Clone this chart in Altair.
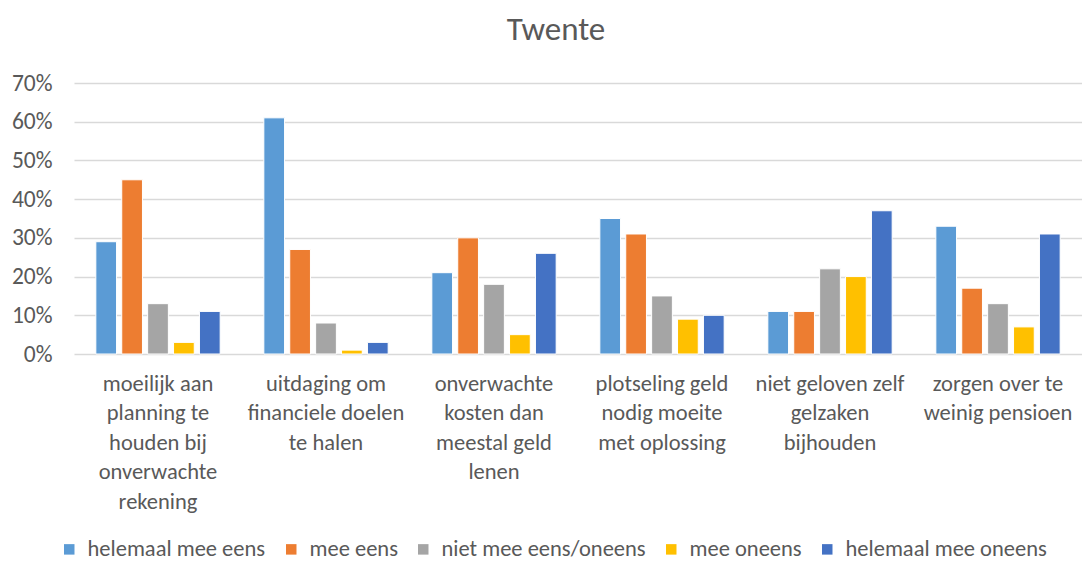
import altair as alt
import pandas as pd

categories = [
    "moeilijk aan|planning te|houden bij|onverwachte|rekening",
    "uitdaging om|financiele doelen|te halen",
    "onverwachte|kosten dan|meestal geld|lenen",
    "plotseling geld|nodig moeite|met oplossing",
    "niet geloven zelf|gelzaken|bijhouden",
    "zorgen over te|weinig pensioen",
]
series = [
    "helemaal mee eens",
    "mee eens",
    "niet mee eens/oneens",
    "mee oneens",
    "helemaal mee oneens",
]
colors = ["#5B9BD5", "#ED7D31", "#A5A5A5", "#FFC000", "#4472C4"]

helemaal_mee_eens = [0.29, 0.61, 0.21, 0.35, 0.11, 0.33]
mee_eens = [0.45, 0.27, 0.30, 0.31, 0.11, 0.17]
niet_mee_eens_oneens = [0.13, 0.08, 0.18, 0.15, 0.22, 0.13]
mee_oneens = [0.03, 0.01, 0.05, 0.09, 0.20, 0.07]
helemaal_mee_oneens = [0.11, 0.03, 0.26, 0.10, 0.37, 0.31]

values = [helemaal_mee_eens, mee_eens, niet_mee_eens_oneens, mee_oneens, helemaal_mee_oneens]
rows = []
for s, vals in zip(series, values):
    for c, v in zip(categories, vals):
        rows.append({"cat": c, "series": s, "value": v})
df = pd.DataFrame(rows)

FONT = "Carlito, Calibri, Lato, sans-serif"
GREY = "#595959"

chart = (
    alt.Chart(df)
    .mark_bar(stroke="white", strokeWidth=1)
    .encode(
        x=alt.X(
            "cat:N",
            sort=categories,
            title=None,
            scale=alt.Scale(paddingInner=0.26, paddingOuter=0.13),
            axis=alt.Axis(
                labelExpr="split(datum.label, '|')",
                labelAngle=0,
                labelFontSize=22.5,
                labelLineHeight=29.6,
                labelPadding=18,
                labelColor=GREY,
                labelFont=FONT,
                labelBaseline="top",
                ticks=False,
                domain=False,
            ),
        ),
        xOffset=alt.XOffset("series:N", sort=series, scale=alt.Scale(paddingInner=0.2)),
        y=alt.Y(
            "value:Q",
            title=None,
            scale=alt.Scale(domain=[0, 0.7], nice=False),
            axis=alt.Axis(
                format=".0%",
                values=[0, 0.1, 0.2, 0.3, 0.4, 0.5, 0.6, 0.7],
                labelFontSize=23.5,
                labelColor=GREY,
                labelFont=FONT,
                labelPadding=22,
                ticks=False,
                domain=False,
                gridColor="#D9D9D9",
                gridWidth=1.3,
            ),
        ),
        color=alt.Color(
            "series:N",
            sort=series,
            scale=alt.Scale(domain=series, range=colors),
            legend=alt.Legend(
                title=None,
                orient="none",
                direction="horizontal",
                legendX=-16,
                legendY=455,
                symbolType="square",
                symbolSize=110,
                symbolStrokeWidth=0,
                labelFontSize=22.5,
                labelFont=FONT,
                labelColor=GREY,
                labelOffset=7,
                labelLimit=0,
                columnPadding=14,
            ),
        ),
    )
    .properties(
        width=1008,
        height=271,
        title=alt.TitleParams(
            "Twente",
            fontSize=33,
            font=FONT,
            color=GREY,
            fontWeight="normal",
            anchor="middle",
            frame="group",
            dx=-22,
            offset=24,
        ),
        autosize=alt.AutoSizeParams(type="none"),
        padding={"left": 66, "top": 75, "right": 0, "bottom": 208},
    )
    .configure_view(stroke=None)
)

chart.save("out.html", embed_options={"renderer": "svg", "actions": False})
